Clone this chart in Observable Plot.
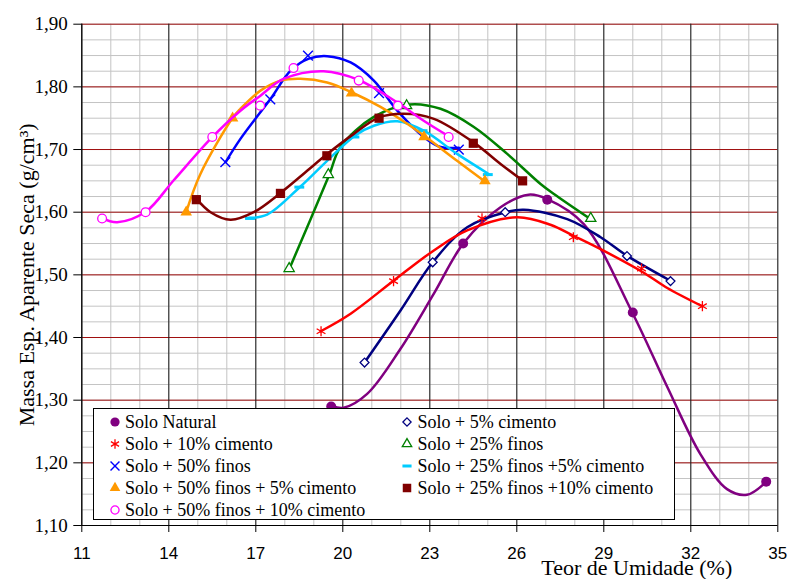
<!DOCTYPE html>
<html>
<head>
<meta charset="utf-8">
<script src="https://cdn.jsdelivr.net/npm/d3@7"></script>
<script src="https://cdn.jsdelivr.net/npm/@observablehq/plot@0.6"></script>
<style>
  html, body { margin: 0; padding: 0; background: #fff; }
  #wrap { position: relative; width: 788px; height: 579px; }
  #legend { position: absolute; left: 92.5px; top: 407.5px; width: 582px; height: 112px;
            border: 1px solid #000; background: #fff; box-sizing: border-box;
            font-family: "DejaVu Serif", serif; font-size: 18px; color: #000; }
  #legend span { font-family: "Liberation Serif", "Tinos", "Times New Roman", "DejaVu Serif", serif; }
  .item { position: absolute; height: 22px; line-height: 22px; white-space: nowrap; }
  .item svg { position: absolute; top: 4px; }
  .item span { position: absolute; }
</style>
</head>
<body>
<div id="wrap"></div>
<script>
// ---- axis ticks ----
const xTicks = [11, 14, 17, 20, 23, 26, 29, 32, 35];
const yTicks = [1.10, 1.20, 1.30, 1.40, 1.50, 1.60, 1.70, 1.80, 1.90];
const xTitle = "Teor de Umidade (%)";
const yTitle = "Massa Esp. Aparente Seca (g/cm³)";

// ---- series names ----
const names = [
  "Solo Natural", "Solo + 5% cimento", "Solo + 10% cimento", "Solo + 25% finos",
  "Solo + 50% finos", "Solo + 25% finos +5% cimento", "Solo + 50% finos + 5% cimento",
  "Solo + 25% finos +10% cimento", "Solo + 50% finos + 10% cimento"
];
const colors = ["#800080", "#000080", "#ff0000", "#008000", "#0000ff", "#00ccff", "#ff9900", "#800000", "#ff00ff"];

// ---- measured points [teor de umidade, massa esp.] ----
const soloNatural = [[19.6, 1.29], [24.15, 1.55], [27.05, 1.62], [30.0, 1.44], [34.6, 1.17]];
const cimento5 = [[20.75, 1.36], [23.1, 1.52], [25.6, 1.60], [29.8, 1.53], [31.3, 1.49]];
const cimento10 = [[19.25, 1.41], [21.75, 1.49], [24.8, 1.59], [27.95, 1.56], [30.3, 1.51], [32.4, 1.45]];
const finos25 = [[18.15, 1.51], [19.5, 1.66], [22.2, 1.77], [28.55, 1.59]];
const finos50 = [[15.95, 1.68], [17.5, 1.78], [18.8, 1.85], [21.25, 1.79], [24.0, 1.70]];
const finos25c5 = [[16.8, 1.59], [18.5, 1.64], [20.4, 1.72], [22.75, 1.73], [25.0, 1.66]];
const finos50c5 = [[14.6, 1.60], [16.2, 1.75], [20.3, 1.79], [22.8, 1.72], [24.9, 1.65]];
const finos25c10 = [[14.95, 1.62], [17.85, 1.63], [19.45, 1.69], [21.25, 1.75], [24.5, 1.71], [26.2, 1.65]];
const finos50c10 = [[11.7, 1.59], [13.2, 1.60], [15.5, 1.72], [17.15, 1.77], [18.3, 1.83], [20.55, 1.81], [21.9, 1.77], [23.65, 1.72]];

// ---- trend curves ----
const soloNaturalTrend = [[19.63, 1.291], [20.03, 1.288], [20.84, 1.310], [21.99, 1.382], [23.14, 1.470], [24.17, 1.551], [25.44, 1.608], [26.41, 1.628], [27.05, 1.621], [28.31, 1.581], [29.98, 1.440], [31.19, 1.321], [32.33, 1.214], [33.25, 1.158], [33.94, 1.149], [34.63, 1.171]];
const cimento5Trend = [[20.75, 1.360], [21.99, 1.443], [23.10, 1.520], [24.29, 1.576], [25.61, 1.600], [26.24, 1.604], [27.74, 1.589], [28.89, 1.560], [29.78, 1.531], [31.28, 1.491]];
const cimento10Trend = [[19.24, 1.410], [20.27, 1.438], [21.76, 1.491], [23.14, 1.539], [24.29, 1.571], [26.01, 1.592], [27.16, 1.580], [27.97, 1.562], [28.89, 1.541], [30.32, 1.505], [31.19, 1.479], [32.39, 1.450]];
const finos25Trend = [[18.17, 1.511], [19.52, 1.658], [19.92, 1.704], [21.07, 1.752], [22.3, 1.772], [23.37, 1.765], [24.52, 1.736], [25.67, 1.693], [26.82, 1.645], [27.28, 1.629], [28.54, 1.589]];
const finos50Trend = [[15.96, 1.680], [16.47, 1.717], [17.51, 1.781], [18.2, 1.826], [18.83, 1.845], [19.46, 1.849], [20.27, 1.839], [21.07, 1.810], [21.88, 1.762], [22.79, 1.720], [23.37, 1.704], [24.0, 1.703]];
const finos25c5Trend = [[16.76, 1.591], [17.39, 1.596], [18.54, 1.641], [19.46, 1.682], [20.44, 1.723], [21.07, 1.738], [21.88, 1.745], [22.79, 1.730], [23.94, 1.693], [25.03, 1.661]];
const finos50c5Trend = [[14.6, 1.600], [15.09, 1.661], [16.21, 1.751], [16.47, 1.765], [17.16, 1.794], [17.85, 1.810], [18.54, 1.813], [19.46, 1.807], [20.32, 1.791], [21.3, 1.768], [22.22, 1.741], [22.83, 1.721], [23.94, 1.682], [24.9, 1.649]];
const finos25c10Trend = [[14.94, 1.622], [15.44, 1.600], [16.13, 1.588], [16.93, 1.600], [17.86, 1.631], [18.77, 1.666], [19.44, 1.692], [20.38, 1.725], [21.24, 1.751], [22.1, 1.757], [23.14, 1.749], [24.52, 1.711], [25.44, 1.677], [26.19, 1.651]];
const finos50c10Trend = [[11.68, 1.591], [12.22, 1.584], [13.21, 1.601], [14.17, 1.651], [15.48, 1.719], [16.47, 1.762], [17.16, 1.786], [17.97, 1.813], [19.34, 1.825], [20.55, 1.811], [21.88, 1.775], [22.79, 1.746], [23.66, 1.721]];

const pointSets = [soloNatural, cimento5, cimento10, finos25, finos50, finos25c5, finos50c5, finos25c10, finos50c10];
const trendSets = [soloNaturalTrend, cimento5Trend, cimento10Trend, finos25Trend, finos50Trend, finos25c5Trend, finos50c5Trend, finos25c10Trend, finos50c10Trend];

// ---- marker styles ----
const dashSymbol = { draw(ctx, size) { const w = Math.sqrt(size) * 0.62; ctx.moveTo(-w, 0); ctx.lineTo(w, 0); } };
const markerStyle = [
  { symbol: "circle", r: 5, fill: colors[0], stroke: "none" },
  { symbol: "diamond2", r: 4, fill: "white", stroke: colors[1], strokeWidth: 1.3 },
  { symbol: "asterisk", r: 4.8, fill: "none", stroke: colors[2], strokeWidth: 1.3 },
  { symbol: "triangle", r: 3.8, fill: "white", stroke: colors[3], strokeWidth: 1.3 },
  { symbol: "times", r: 4.5, fill: "none", stroke: colors[4], strokeWidth: 1.4 },
  { symbol: dashSymbol, r: 4.5, fill: "none", stroke: colors[5], strokeWidth: 3 },
  { symbol: "triangle", r: 4.3, fill: colors[6], stroke: "none" },
  { symbol: "square", r: 5.2, fill: colors[7], stroke: "none" },
  { symbol: "circle", r: 4.4, fill: "white", stroke: colors[8], strokeWidth: 1.3 }
];

const xMinor = d3.range(11, 36, 1);
const yMinor = d3.range(0, 33).map(i => +(1.10 + i * 0.025).toFixed(3));
const fmtY = d => d.toFixed(2).replace(".", ",");
const serif = "'Liberation Serif', Tinos, 'Times New Roman', 'DejaVu Serif', serif";
const sans = "'Liberation Sans', Arial, sans-serif";

const seriesMarks = [];
pointSets.forEach((pts, i) => {
  seriesMarks.push(Plot.line(trendSets[i], { x: d => d[0], y: d => d[1], curve: "catmull-rom", stroke: colors[i], strokeWidth: 2.5 }));
  seriesMarks.push(Plot.dot(pts, { x: d => d[0], y: d => d[1], ...markerStyle[i] }));
});

const chart = Plot.plot({
  width: 788,
  height: 579,
  marginLeft: 81.3,
  marginRight: 10.7,
  marginTop: 23.7,
  marginBottom: 54,
  style: { background: "white", color: "black" },
  x: { domain: [11, 35] },
  y: { domain: [1.10, 1.90] },
  marks: [
    Plot.gridX(xMinor, { stroke: "#c4c4c4", strokeOpacity: 1, strokeWidth: 1 }),
    Plot.gridY(yMinor, { stroke: "#c4c4c4", strokeOpacity: 1, strokeWidth: 1 }),
    Plot.gridY(yTicks, { stroke: "#a01010", strokeOpacity: 1, strokeWidth: 1 }),
    Plot.gridX(xTicks, { stroke: "#1a1a1a", strokeOpacity: 1, strokeWidth: 1 }),
    Plot.ruleX([11], { stroke: "black" }),
    Plot.ruleY([1.10], { stroke: "black" }),
    Plot.axisX(xTicks, { tickSize: 7, tickPadding: 14, fontSize: 17, fontFamily: sans, label: null, tickFormat: d => String(d) }),
    Plot.axisY(yTicks, { tickSize: 8, tickPadding: 6, fontSize: 19, fontFamily: serif, label: null, tickFormat: fmtY }),
    Plot.text([yTitle], { text: d => d, frameAnchor: "left", rotate: -90, dx: -55, fontSize: 22, fontFamily: serif, textAnchor: "middle", lineAnchor: "middle" }),
    Plot.text([xTitle], { text: d => d, frameAnchor: "bottom", dx: 207, dy: 42, fontSize: 22, fontFamily: serif, textAnchor: "middle", lineAnchor: "middle" }),
    ...seriesMarks
  ]
});

const wrap = document.getElementById("wrap");
wrap.appendChild(chart);

// ---- legend (inside the plot area) ----
const legend = document.createElement("div");
legend.id = "legend";
wrap.appendChild(legend);

const d3Types = {
  circle: d3.symbolCircle, diamond2: d3.symbolDiamond2, asterisk: d3.symbolAsterisk,
  triangle: d3.symbolTriangle, times: d3.symbolTimes, square: d3.symbolSquare
};
const legendOrder = [0, 2, 4, 6, 8, 1, 3, 5, 7];
legendOrder.forEach((si, k) => {
  const col = k < 5 ? 0 : 1;
  const row = col === 0 ? k : k - 5;
  const cy = 13 + row * 22;
  const mx = col === 0 ? 21.5 : 313.5;
  const tx = col === 0 ? 31.5 : 324;
  const item = document.createElement("div");
  item.className = "item";
  item.style.left = "0px";
  item.style.top = (cy - 11) + "px";
  const st = markerStyle[si];
  const type = typeof st.symbol === "string" ? d3Types[st.symbol] : st.symbol;
  const size = Math.PI * st.r * st.r * 0.85;
  const path = d3.symbol().type(type).size(size)();
  const svg = `<svg width="16" height="14" style="left:${mx - 8}px" viewBox="-8 -7 16 14">` +
    `<path d="${path}" fill="${st.fill}" stroke="${st.stroke}" stroke-width="${st.strokeWidth || 0}"/></svg>`;
  item.innerHTML = svg + `<span style="left:${tx}px">${names[si]}</span>`;
  legend.appendChild(item);
});
</script>
</body>
</html>
